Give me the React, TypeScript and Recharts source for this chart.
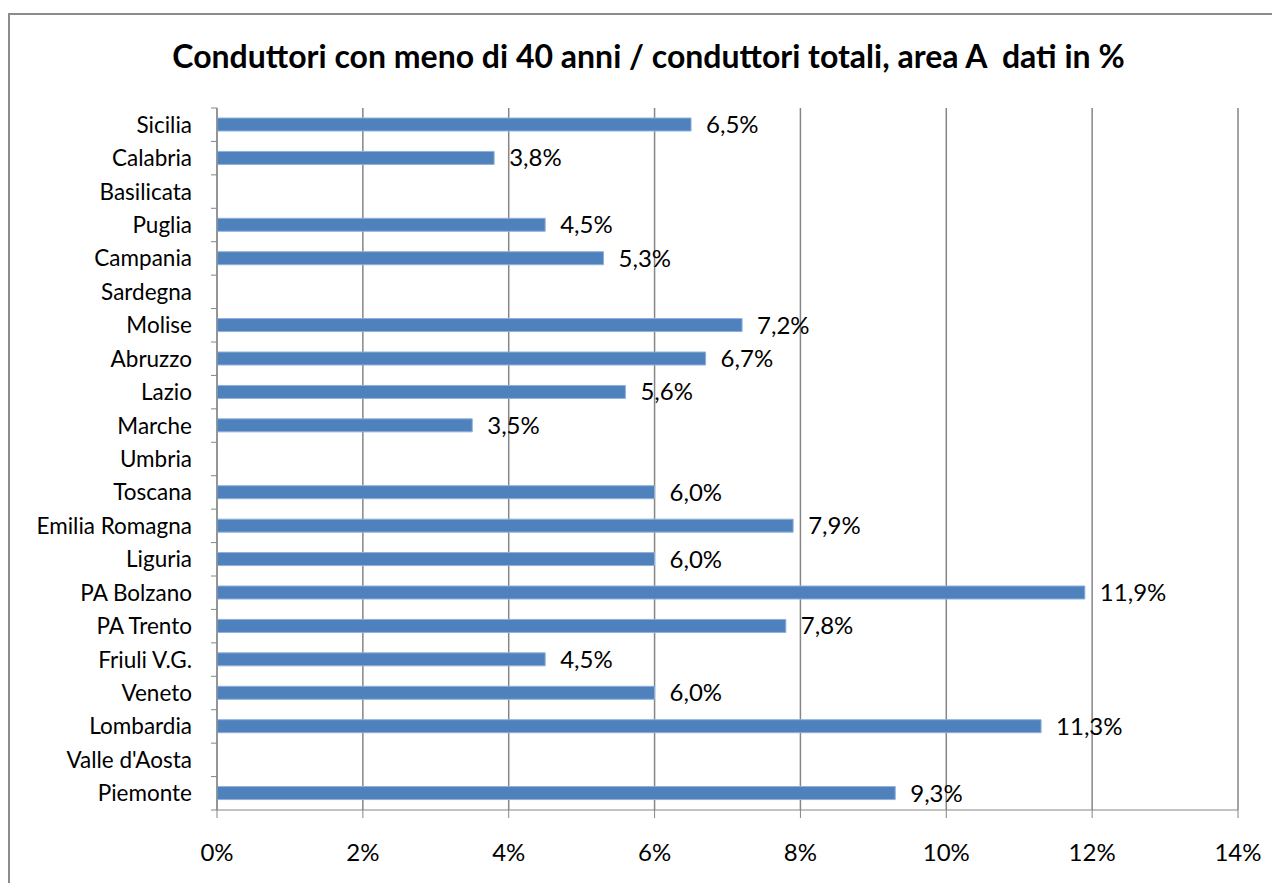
import { BarChart, Bar, XAxis, YAxis, CartesianGrid, LabelList } from 'recharts';

// Regions listed top to bottom as in the chart
const regions = [
  'Sicilia', 'Calabria', 'Basilicata', 'Puglia', 'Campania', 'Sardegna', 'Molise',
  'Abruzzo', 'Lazio', 'Marche', 'Umbria', 'Toscana', 'Emilia Romagna', 'Liguria',
  'PA Bolzano', 'PA Trento', 'Friuli V.G.', 'Veneto', 'Lombardia', "Valle d'Aosta", 'Piemonte'
];

// share of farm holders under 40, in %
const quota = [
  6.5, 3.8, null, 4.5, 5.3, null, 7.2,
  6.7, 5.6, 3.5, null, 6.0, 7.9, 6.0,
  11.9, 7.8, 4.5, 6.0, 11.3, null, 9.3
];

const xTicks = [0, 2, 4, 6, 8, 10, 12, 14];

const CHART_W = 1280;
const CHART_H = 891;
const TOP = 108;
const XAXIS_H = 81;
const FONT = 'Lato, "DejaVu Sans", sans-serif';
const GRAY = '#868686';

const data = regions.map((name, i) => ({ name, quota: quota[i] }));

function RegionTick(props: any) {
  const { x, y, payload } = props;
  const band = (CHART_H - TOP - XAXIS_H) / regions.length;
  return (
    <g>
      <text x={x} y={y} dy={8} textAnchor="end" fill="#000" fontSize={22.5} fontFamily={FONT}>
        {payload.value}
      </text>
      <line x1={x + 19} x2={x + 25} y1={y - band / 2} y2={y - band / 2} stroke={GRAY} />
      {props.index === regions.length - 1 && (
        <line x1={x + 19} x2={x + 25} y1={y + band / 2} y2={y + band / 2} stroke={GRAY} />
      )}
    </g>
  );
}

const fmt = (v: any) => (v == null ? '' : `${Number(v).toFixed(1).replace('.', ',')}%`);

export default function App() {
  return (
    <div style={{ position: 'relative', margin: -8, width: CHART_W, height: CHART_H, background: '#fff', overflow: 'hidden' }}>
      <div
        style={{
          position: 'absolute', left: 8, top: 13, width: 1266, height: 900,
          border: '2px solid #8c8c8c', boxSizing: 'border-box'
        }}
      />
      <div
        style={{
          position: 'absolute', left: 0, top: 36, width: 1297, textAlign: 'center', whiteSpace: 'pre',
          fontFamily: FONT, fontWeight: 700, fontSize: 32, color: '#000'
        }}
      >
        Conduttori con meno di 40 anni / conduttori totali, area A  dati in %
      </div>
      <div style={{ position: 'absolute', left: 0, top: 0 }}>
        <BarChart
          width={CHART_W}
          height={CHART_H}
          data={data}
          layout="vertical"
          margin={{ top: TOP, right: 42, bottom: 0, left: 0 }}
        >
          <CartesianGrid horizontal={false} stroke={GRAY} strokeWidth={1.5} />
          <XAxis
            type="number"
            domain={[0, 14]}
            ticks={xTicks}
            tickFormatter={(v) => `${v}%`}
            height={XAXIS_H}
            stroke={GRAY}
            tickSize={8}
            tickMargin={26}
            tick={{ fill: '#000', fontSize: 24, fontFamily: FONT }}
            interval={0}
          />
          <YAxis
            type="category"
            dataKey="name"
            width={217}
            stroke={GRAY}
            tickLine={false}
            tickSize={6}
            tickMargin={19}
            tick={<RegionTick />}
            interval={0}
          />
          <Bar dataKey="quota" fill="#4F81BD" stroke="#8FB0DA" strokeWidth={1} barSize={13} isAnimationActive={false}>
            <LabelList
              dataKey="quota"
              position="right"
              offset={15}
              formatter={fmt}
              fill="#000"
              fontSize={24}
              fontFamily={FONT}
            />
          </Bar>
        </BarChart>
      </div>
    </div>
  );
}
